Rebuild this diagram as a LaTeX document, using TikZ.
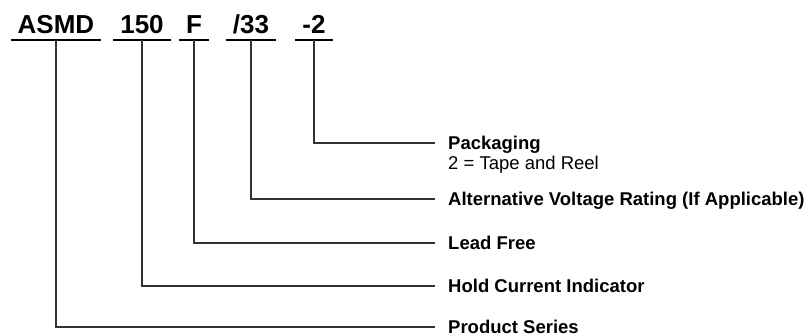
\documentclass[tikz,border=0pt]{standalone}
\usepackage{fontspec}
\setmainfont{Liberation Sans}
\usepackage{tikz}
\usetikzlibrary{positioning}
\tikzset{
	pfield/.style={font=\bfseries\fontsize{26}{28}\selectfont, anchor=base, inner xsep=7pt, inner ysep=6pt, text depth=0pt},
	underl/.style={line width=2.6pt, black},
	plabel/.style={font=\bfseries\fontsize{18.5}{21}\selectfont, anchor=west, inner xsep=13pt, inner ysep=0pt, text height=13pt, text depth=0pt},
	psub/.style={font=\fontsize{18.5}{21}\selectfont, inner xsep=13pt, inner ysep=0pt, text height=13pt, text depth=0pt},
	lead/.style={line width=1.1pt, black!80}
}

\begin{document}
\begin{tikzpicture}[x=1pt,y=-1pt]
	\useasboundingbox (0,0) rectangle (805,336);
	\node [pfield] (series) at (56,34) {ASMD};
	\node [pfield] (hold) at (142,34) {150};
	\node [pfield] (free) at (194,34) {F};
	\node [pfield] (volt) at (251,34) {/33};
	\node [pfield] (pack) at (314,34) {-2};
	\foreach \n in {series,hold,free,volt,pack}
		\draw [underl] (\n.south west) -- (\n.south east);
	\node [plabel] (packl) at (435,143) {Packaging};
	\node [psub, below=7pt of packl.south west, anchor=north west] (packs) {2 = Tape and Reel};
	\node [plabel] (voltl) at (435,199) {Alternative Voltage Rating (If Applicable)};
	\node [plabel] (freel) at (435,243) {Lead Free};
	\node [plabel] (holdl) at (435,286) {Hold Current Indicator};
	\node [plabel] (seriesl) at (435,327) {Product Series};
	\draw [lead] (pack.south) |- (packl.west);
	\draw [lead] (volt.south) |- (voltl.west);
	\draw [lead] (free.south) |- (freel.west);
	\draw [lead] (hold.south) |- (holdl.west);
	\draw [lead] (series.south) |- (seriesl.west);
\end{tikzpicture}
\end{document}
